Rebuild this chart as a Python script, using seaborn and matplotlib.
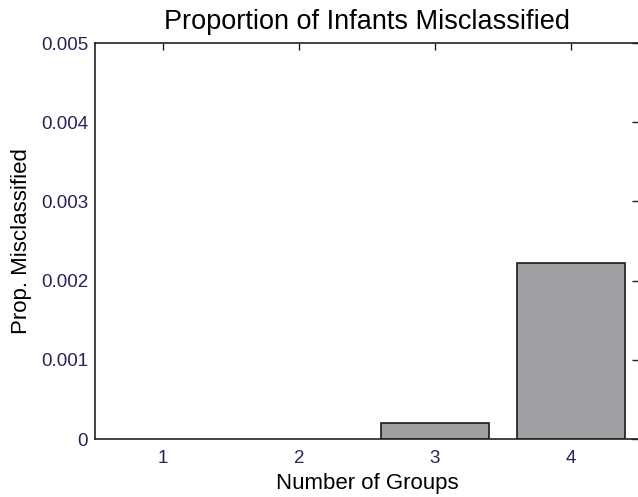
import pandas as pd
import seaborn as sns
import matplotlib.pyplot as plt

groups = ["1", "2", "3", "4"]
prop_misclassified = [0.0, 0.0, 0.0002, 0.00222]
ytick_vals = [0, 0.001, 0.002, 0.003, 0.004, 0.005]
ytick_labels = ["0", "0.001", "0.002", "0.003", "0.004", "0.005"]

df = pd.DataFrame({"groups": groups, "prop": prop_misclassified})

sns.set_style("white")
plt.rcParams["font.family"] = ["Liberation Sans", "DejaVu Sans"]
plt.rcParams["text.color"] = "black"
plt.rcParams["axes.labelcolor"] = "black"

fig = plt.figure(figsize=(6.38, 4.97), dpi=100)
W, H = 638, 497
ax = fig.add_axes([95 / W, 1 - 439 / H, (639 - 95) / W, (439 - 43) / H])

sns.barplot(data=df, x="groups", y="prop", color="#a09fa4", saturation=1,
            width=0.8, edgecolor="#1a1a1a", linewidth=1.2, ax=ax)

# zero-height bars are invisible in the original
for patch, v in zip(ax.patches, prop_misclassified):
    if v == 0:
        patch.set_visible(False)

ax.set_xlim(-0.5, 3.5)
ax.set_ylim(0, 0.005)
ax.set_yticks(ytick_vals)
ax.set_yticklabels(ytick_labels)

tick_color = "#26225e"
ax.tick_params(direction="in", length=5, width=1, top=True, right=True,
               labelsize=13.5, labelcolor=tick_color, color="#222222")
ax.tick_params(axis="x", pad=8)
ax.tick_params(axis="y", pad=5)
for s in ax.spines.values():
    s.set_color("#222222")
    s.set_linewidth(1.2)

ax.set_title("Proportion of Infants Misclassified", fontsize=19.5, pad=10,
             color="black")
ax.set_xlabel("Number of Groups", fontsize=16, labelpad=4)
ax.set_ylabel("Prop. Misclassified", fontsize=16, labelpad=6)

fig.savefig("out.png", dpi=100)
plt.close()
